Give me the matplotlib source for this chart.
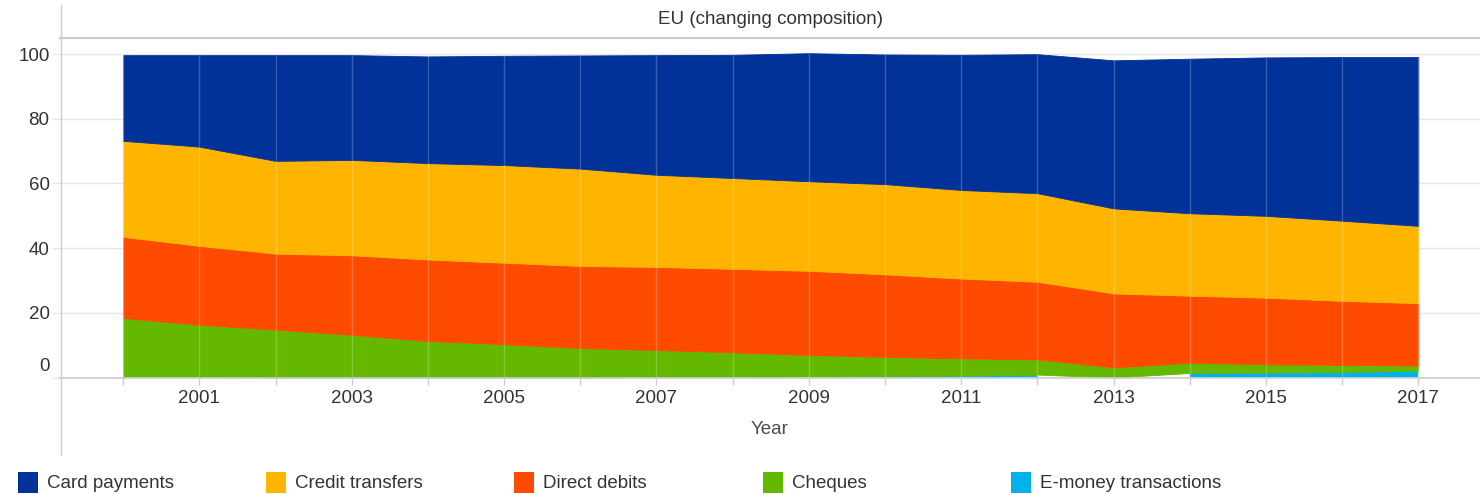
import numpy as np
import matplotlib
matplotlib.use("Agg")
import matplotlib.pyplot as plt
from matplotlib.lines import Line2D
from matplotlib.patches import Rectangle

plt.rcParams['font.family'] = ['Liberation Sans', 'DejaVu Sans']

# ---------------- data ----------------
years = list(range(2000, 2018))
emoney = [0.1, 0.1, 0.0, 0.0, 0.0, 0.0, 0.0, 0.1, 0.2, 0.3, 0.5, 0.6, 0.9,
          np.nan, 1.4, 1.5, 1.7, 2.1]
cheques = [18.3, 16.2, 14.8, 13.2, 11.3, 10.3, 9.1, 8.4, 7.6, 6.7, 5.9, 5.3, 4.7,
           3.1, 3.2, 2.6, 2.2, 1.6]
direct_debits = [25.1, 24.4, 23.5, 24.6, 25.2, 25.2, 25.4, 25.7, 25.8, 26.0, 25.5,
                 24.7, 24.0, 22.9, 20.7, 20.6, 19.8, 19.3]
credit_transfers = [29.7, 30.7, 28.7, 29.5, 29.8, 30.2, 30.1, 28.5, 28.1, 27.7, 27.9,
                    27.4, 27.4, 26.3, 25.5, 25.3, 24.8, 23.9]
card_payments = [26.5, 28.3, 32.7, 32.4, 33.0, 33.8, 35.0, 37.0, 38.1, 39.6, 40.1,
                 41.8, 43.0, 45.8, 47.8, 49.0, 50.6, 52.2]

series_names = ["Card payments", "Credit transfers", "Direct debits", "Cheques",
                "E-money transactions"]
colors = {"Card payments": "#003299", "Credit transfers": "#FFB400",
          "Direct debits": "#FF4B00", "Cheques": "#65B800",
          "E-money transactions": "#00B1EA"}
yticks = [0, 20, 40, 60, 80, 100]
xtick_labels = [str(y) if y % 2 == 1 else "" for y in years]
title = "EU (changing composition)"
xlabel = "Year"

# ---------------- figure ----------------
W, H = 1480, 494
fig = plt.figure(figsize=(W / 100, H / 100), dpi=100)
ax = fig.add_axes([60 / W, 1 - 377.5 / H, 1420 / W, (377.5 - 38) / H])
ax.set_axisbelow(True)

x = np.array(years, dtype=float)
e = np.array(emoney, dtype=float)
base = np.nan_to_num(e)
# bottom to top stacking
ax.fill_between(x, 0, e, color=colors["E-money transactions"], lw=0, zorder=1)
layers = [("Cheques", cheques), ("Direct debits", direct_debits),
          ("Credit transfers", credit_transfers), ("Card payments", card_payments)]
for name, vals in layers:
    top = base + np.array(vals, dtype=float)
    ax.fill_between(x, base, top, color=colors[name], lw=0.6,
                    edgecolor=colors[name], zorder=1)
    base = top
total = base
ax.vlines(x, 0, total, colors="white", alpha=0.22, lw=1, zorder=2)

ax.set_xlim(1999.17, 2017.81)
ax.set_ylim(0, 105)

ax.set_xticks(years)
ax.set_xticklabels(xtick_labels, fontsize=13.5, color="#333333")
ax.tick_params(axis="x", length=5, width=1, color="#cccccc", pad=4)

ax.set_yticks(yticks)
ax.set_yticklabels(["" if v == 0 else str(v) for v in yticks],
                   fontsize=13.5, color="#333333")
ax.tick_params(axis="y", length=6, width=1, color="#e6e6e6", pad=1.5)
ax.annotate(str(yticks[0]), xy=(0, yticks[0]), xycoords=("axes fraction", "data"),
            xytext=(-10, 11), textcoords="offset pixels", ha="right", va="center",
            fontsize=13.5, color="#333333")
ax.yaxis.grid(True, color="#e6e6e6", lw=1)
ax.xaxis.grid(False)

for s in ["left", "right"]:
    ax.spines[s].set_visible(False)
ax.spines["top"].set_color("#cccccc")
ax.spines["top"].set_linewidth(1.5)
ax.spines["bottom"].set_color("#cccccc")
ax.spines["bottom"].set_linewidth(1.2)

# left axis line extending beyond the plot
fig.add_artist(Line2D([60.5 / W, 60.5 / W], [1 - 5 / H, 1 - 455 / H],
                      color="#cccccc", lw=1, transform=fig.transFigure))

fig.text(770 / W, 1 - 20 / H, title, ha="center", va="center", fontsize=13.5,
         color="#333333")
fig.text(770 / W, 1 - 429 / H, xlabel, ha="center", va="center", fontsize=13.5,
         color="#4d4d4d")

# legend
leg_x = [18, 266, 514, 763, 1011]
for name, lx in zip(series_names, leg_x):
    fig.add_artist(Rectangle((lx / W, 1 - 493 / H), 20 / W, 21 / H,
                             transform=fig.transFigure, color=colors[name], lw=0))
    fig.text((lx + 29) / W, 1 - 483 / H, name, ha="left", va="center",
             fontsize=13.5, color="#333333")

fig.savefig("out.png", dpi=100)
